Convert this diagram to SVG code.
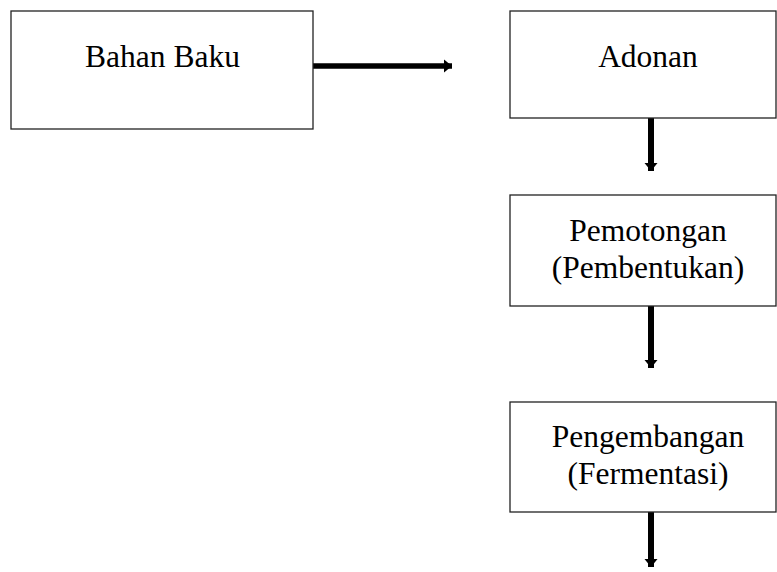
<svg xmlns="http://www.w3.org/2000/svg" width="777" height="572" viewBox="0 0 777 572">
<style>
.box{fill:#fff;stroke:#222;stroke-width:1.3}
.t{font-family:"Liberation Serif","Times New Roman",serif;font-size:31.5px;fill:#000;text-anchor:middle}
.c{stroke:#000;fill:none}
</style>
<defs>
<marker id="ah" markerUnits="userSpaceOnUse" markerWidth="16" markerHeight="16" refX="8" refY="8" orient="auto">
<path d="M0,1.5 L8,8 L0,14.5 Z" fill="#000"/>
</marker>
</defs>
<rect width="777" height="572" fill="#fff"/>
<g id="connectors">
<line class="c" x1="313" y1="66" x2="452" y2="66" stroke-width="5.5" marker-end="url(#ah)"/>
<line class="c" x1="651" y1="118" x2="651" y2="171" stroke-width="6" marker-end="url(#ah)"/>
<line class="c" x1="651" y1="306" x2="651" y2="368" stroke-width="6" marker-end="url(#ah)"/>
<line class="c" x1="651" y1="512" x2="651" y2="567" stroke-width="6" marker-end="url(#ah)"/>
</g>
<g id="bahan-baku">
<rect class="box" x="11" y="11" width="302" height="118"/>
<text class="t" x="162.5" y="67">Bahan Baku</text>
</g>
<g id="adonan">
<rect class="box" x="510" y="11" width="266" height="107"/>
<text class="t" x="648" y="67">Adonan</text>
</g>
<g id="pemotongan">
<rect class="box" x="510" y="195" width="266" height="111"/>
<text class="t" x="648" y="241">Pemotongan</text>
<text class="t" x="648" y="278">(Pembentukan)</text>
</g>
<g id="pengembangan">
<rect class="box" x="510" y="402" width="266" height="110"/>
<text class="t" x="648" y="447">Pengembangan</text>
<text class="t" x="648" y="484">(Fermentasi)</text>
</g>
</svg>
